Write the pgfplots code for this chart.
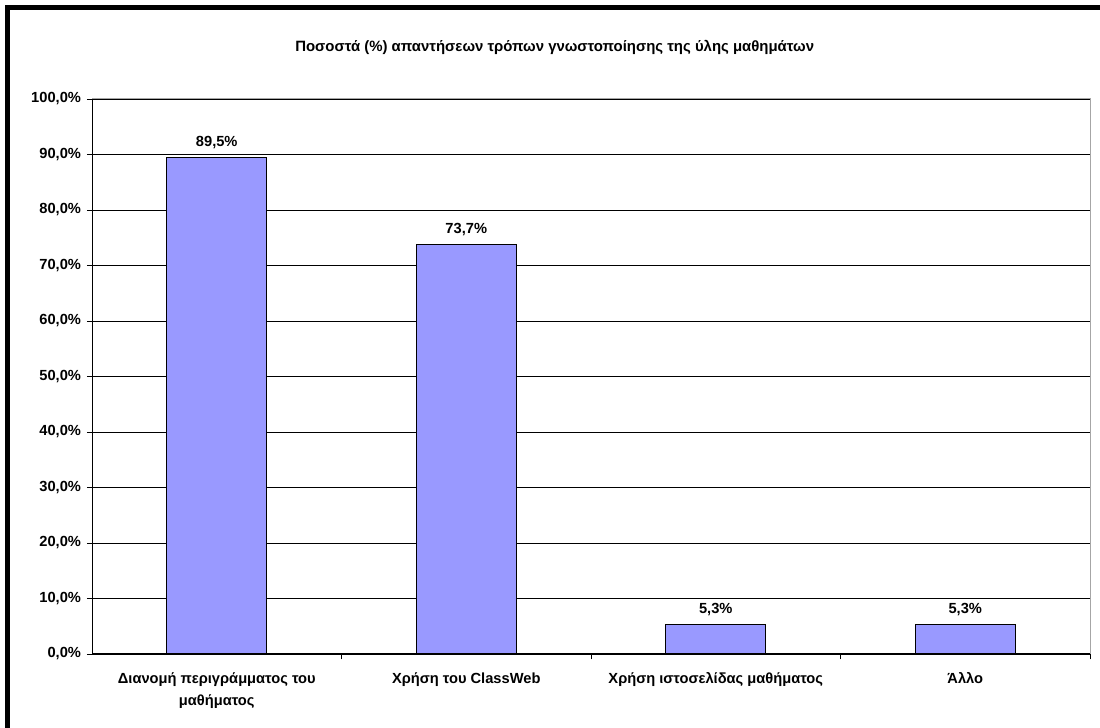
\documentclass[border=0pt]{standalone}
\usepackage{fontspec}
\setmainfont{Liberation Sans}
\usepackage{pgfplots}
\pgfplotsset{compat=1.18}
\definecolor{barblue}{HTML}{9999FF}
\begin{document}
\begin{tikzpicture}[x=1pt,y=1pt]
\useasboundingbox (0,0) rectangle (825,546);
\draw[line width=3.75pt] (5.25,0) -- (5.25,540) -- (825,540);
\node[font=\bfseries\fontsize{11.2}{13}\selectfont] at (416,510.5) {Ποσοστά (\%) απαντήσεων τρόπων γνωστοποίησης της ύλης μαθημάτων};
\begin{axis}[
  at={(69pt,55.5pt)}, anchor=south west,
  scale only axis, width=748.5pt, height=416.25pt,
  xmin=-0.5, xmax=3.5, ymin=0, ymax=100,
  ytick={0,10,...,100},
  xtick={0,1,2,3},
  xticklabels={{Διανομή περιγράμματος του\\μαθήματος},{Χρήση του ClassWeb},{Χρήση ιστοσελίδας μαθήματος},{Άλλο}},
  minor xtick={0.5,1.5,2.5,3.5},
  major x tick style={draw=none},
  minor tick length=4pt,
  major tick length=3.75pt,
  tick align=outside,
  tick pos=left,
  ymajorgrids, grid style={black, line width=0.6pt},
  axis line style={gray!70, line width=0.75pt},
  every tick/.style={black, line width=0.6pt},
  /pgf/number format/assume math mode=true,
  ticklabel style={font=\bfseries\fontsize{11}{13.5}\selectfont},
  xticklabel style={align=center, yshift=-6.5pt, font=\bfseries\fontsize{11}{17}\selectfont},
  yticklabel={\pgfmathprintnumber[fixed,fixed zerofill,precision=1,use comma]{\tick}\%},
  yticklabel style={xshift=-1pt},
  ybar, bar width=0.4,
  nodes near coords={\pgfmathprintnumber[fixed,fixed zerofill,precision=1,use comma]{\pgfplotspointmeta}\%},
  nodes near coords style={font=\bfseries\fontsize{11}{13}\selectfont, yshift=3pt},
]
\addplot[fill=barblue, draw=black, line width=0.8pt] coordinates {(0,89.5) (1,73.7) (2,5.3) (3,5.3)};
\draw[black, line width=0.8pt] (rel axis cs:0,1) -- (rel axis cs:0,0) -- (rel axis cs:1,0);
\end{axis}
\end{tikzpicture}
\end{document}
